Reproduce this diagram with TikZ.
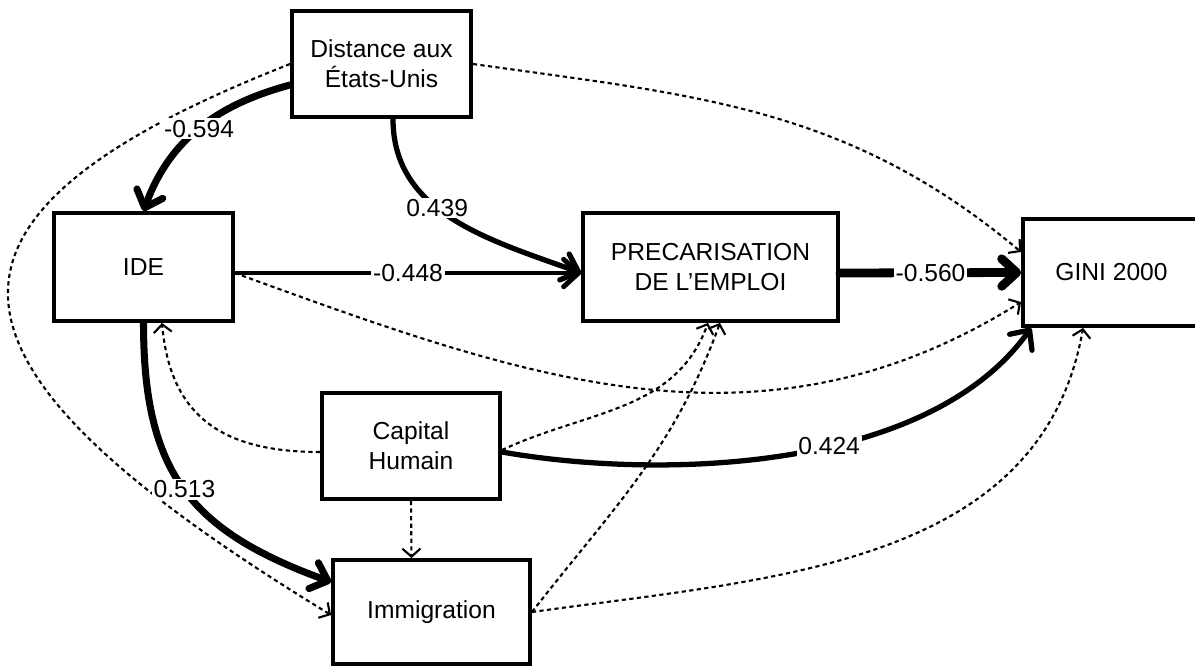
\documentclass[tikz,border=0pt]{standalone}
\usepackage{fontspec}
\setmainfont{Liberation Sans}
\usetikzlibrary{arrows.meta}

\begin{document}
\begin{tikzpicture}[
        boite/.style={shape=rectangle,draw=black,line width=2.2pt,align=center,font=\fontsize{14}{17}\selectfont},
        effet/.style={line width=#1,line cap=round,-{Straight Barb[length=3mm,width=5.5mm,round]}},
        lien/.style={line width=1.2pt,dash pattern=on 2.4pt off 1.9pt,-{Straight Barb[length=1.6mm,width=3.6mm]}},
        coef/.style={fill=white,inner sep=1pt,font=\fontsize{14}{17}\selectfont}
    ]
        \useasboundingbox (0,0) rectangle (23.9,-13.34);

        \node[boite,minimum width=3.58cm,minimum height=2.12cm] (dist) at (7.63, -1.28) {Distance aux\\États-Unis};
        \node[boite,minimum width=3.58cm,minimum height=2.16cm] (ide) at (2.87, -5.34) {IDE};
        \node[boite,minimum width=5.10cm,minimum height=2.16cm] (prec) at (14.21, -5.34) {PRECARISATION\\DE L’EMPLOI};
        \node[boite,minimum width=3.54cm,minimum height=2.14cm] (gini) at (22.23, -5.45) {GINI 2000};
        \node[boite,minimum width=3.56cm,minimum height=2.12cm] (cap) at (8.22, -8.92) {Capital\\Humain};
        \node[boite,minimum width=3.94cm,minimum height=2.08cm] (immi) at (8.63, -12.24) {Immigration};

        % correlations (dotted)
        \draw[lien] (dist.west) .. controls +(-7.9,-3.1) and +(-8.2,5.0) .. ([yshift=-0.06cm]immi.west);
        \path[lien] (dist.east) edge[out=-8,in=140] ([yshift=0.41cm]gini.west);
        \path[lien] ([yshift=-0.12cm]ide.east) edge[out=-20,in=212] ([yshift=-0.59cm]gini.west);
        \path[lien] ([yshift=-0.12cm]cap.west) edge[out=180,in=275,looseness=1.2] ([xshift=0.37cm]ide.south);
        \path[lien] ([yshift=-0.08cm]cap.east) edge[out=25,in=250] ([xshift=-0.05cm]prec.south);
        \path[lien] (cap.south) edge ([xshift=-0.4cm]immi.north);
        \path[lien] (immi.east) edge[out=52,in=250] ([xshift=0.19cm]prec.south);
        \path[lien] (immi.east) edge[out=8,in=260] ([xshift=1.24cm]gini.south west);

        % effects (thick)
        \path[effet=4pt] ([yshift=-0.42cm]dist.west) edge[out=195,in=70] node[coef] {-0.594} (ide.north);
        \path[effet=3pt] ([xshift=0.23cm]dist.south) edge[out=270,in=160] node[coef,pos=0.42] {0.439} ([yshift=-0.12cm]prec.west);
        \path[effet=2.8pt] ([yshift=-0.12cm]ide.east) edge node[coef] {-0.448} ([yshift=-0.12cm]prec.west);
        \path[effet=5pt] ([yshift=-0.12cm]prec.east) edge node[coef] {-0.560} (gini.west);
        \path[effet=4pt] (ide.south) edge[out=270,in=160,looseness=1.2] node[coef] {0.513} ([yshift=0.6cm]immi.west);
        \draw[effet=3pt] ([yshift=-0.12cm]cap.east) .. controls +(3.2,-0.56) and +(-2.06,-2.88) .. ([xshift=0.2cm]gini.south west) node[coef,pos=0.57] {0.424};

\end{tikzpicture}
\end{document}
